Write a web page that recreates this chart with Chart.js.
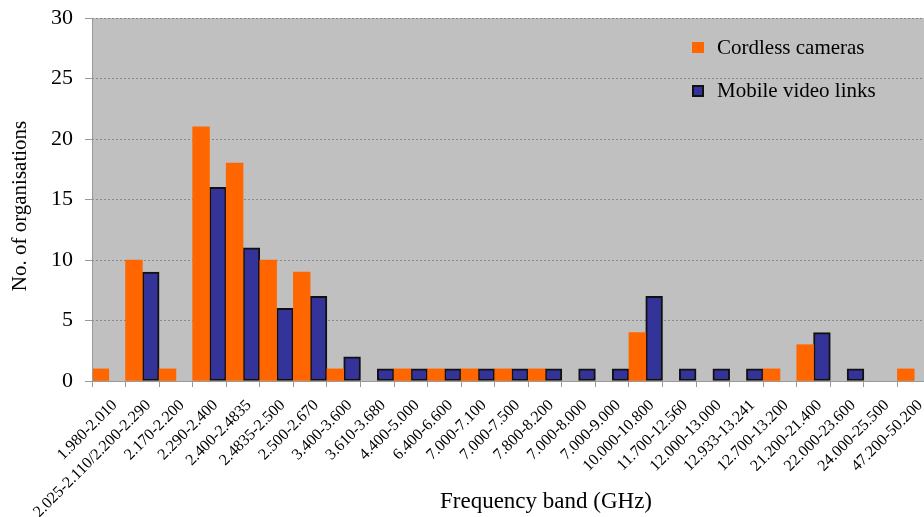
<!DOCTYPE html>
<html>
<head>
<meta charset="utf-8">
<script src="https://cdn.jsdelivr.net/npm/chart.js@4/dist/chart.umd.min.js"></script>
<style>
  html, body { margin: 0; padding: 0; background: #fff; overflow: hidden; width: 924px; height: 517px; }
  canvas { display: block; }
</style>
</head>
<body>
<canvas id="bandChart" width="931" height="517"></canvas>
<script>
const bands = [
  '1.980-2.010', '2.025-2.110/2.200-2.290', '2.170-2.200', '2.290-2.400', '2.400-2.4835',
  '2.4835-2.500', '2.500-2.670', '3.400-3.600', '3.610-3.680', '4.400-5.000',
  '6.400-6.600', '7.000-7.100', '7.000-7.500', '7.800-8.200', '7.000-8.000',
  '7.000-9.000', '10.000-10.800', '11.700-12.560', '12.000-13.000', '12.933-13.241',
  '12.700-13.200', '21.200-21.400', '22.000-23.600', '24.000-25.500', '47.200-50.200'
];

// null = no bar drawn
const cordlessCameras = [1, 10, 1, 21, 18, 10, 9, 1, null, 1, 1, 1, 1, 1, null, null, 4, null, null, null, 1, 3, null, null, 1];
const mobileVideoLinks = [null, 9, null, 16, 11, 6, 7, 2, 1, 1, 1, 1, 1, 1, 1, 1, 7, 1, 1, 1, null, 4, 1, null, null];

const yMax = 30;
const yStep = 5;

const serif = '"Liberation Serif", "Times New Roman", serif';
const orange = '#ff6600';
const navy = '#333399';

// grey plot area + white page
const backdrop = {
  id: 'backdrop',
  beforeDraw(chart) {
    const { ctx, chartArea: a } = chart;
    ctx.save();
    ctx.fillStyle = '#fff';
    ctx.fillRect(0, 0, chart.width, chart.height);
    ctx.fillStyle = '#c0c0c0';
    ctx.fillRect(a.left, a.top, a.right - a.left, a.bottom - a.top);
    ctx.restore();
  },
  // solid left axis line over the dotted grid
  afterDatasetsDraw(chart) {
    const { ctx, chartArea: a } = chart;
    ctx.save();
    ctx.strokeStyle = '#999';
    ctx.lineWidth = 1;
    ctx.beginPath();
    ctx.moveTo(a.left + 0.5, a.top);
    ctx.lineTo(a.left + 0.5, a.bottom);
    ctx.stroke();
    ctx.restore();
  }
};

// axis titles and the in-plot legend
const labels = {
  id: 'labels',
  afterDraw(chart) {
    const { ctx } = chart;
    ctx.save();
    ctx.fillStyle = '#000';
    ctx.font = '23px ' + serif;
    ctx.textAlign = 'center';
    ctx.textBaseline = 'middle';
    ctx.fillText('Frequency band (GHz)', 546, 502);
    ctx.font = '21px ' + serif;
    ctx.translate(20, 206);
    ctx.rotate(-Math.PI / 2);
    ctx.fillText('No. of organisations', 0, 0);
    ctx.restore();

    ctx.save();
    ctx.font = '21px ' + serif;
    ctx.textBaseline = 'middle';
    ctx.fillStyle = orange;
    ctx.fillRect(692, 42, 12, 11);
    ctx.fillStyle = '#000';
    ctx.fillText('Cordless cameras', 717, 48);
    ctx.fillStyle = '#111';
    ctx.fillRect(692, 85, 12, 12);
    ctx.fillStyle = navy;
    ctx.fillRect(694, 87, 8, 8);
    ctx.fillStyle = '#000';
    ctx.fillText('Mobile video links', 717, 91);
    ctx.restore();
  }
};

new Chart(document.getElementById('bandChart'), {
  type: 'bar',
  data: {
    labels: bands,
    datasets: [
      {
        label: 'Cordless cameras',
        data: cordlessCameras,
        backgroundColor: orange,
        borderWidth: 0
      },
      {
        label: 'Mobile video links',
        data: mobileVideoLinks,
        backgroundColor: navy,
        borderColor: '#111',
        borderWidth: 2,
        borderSkipped: false
      }
    ]
  },
  options: {
    responsive: false,
    animation: false,
    categoryPercentage: 1,
    barPercentage: 1,
    layout: { padding: { top: 18, right: 0, left: 0, bottom: 0 } },
    plugins: {
      legend: { display: false },
      tooltip: { enabled: false }
    },
    scales: {
      x: {
        offset: true,
        afterFit: s => { s.height = 136; s.paddingLeft = 0; s.paddingRight = 0; },
        border: { color: '#999', width: 1 },
        grid: { offset: true, drawOnChartArea: false, drawTicks: true, tickLength: 6, color: '#999' },
        ticks: {
          autoSkip: false,
          maxRotation: 45,
          minRotation: 45,
          padding: 9,
          labelOffset: 6,
          color: '#000',
          font: { family: serif, size: 16 }
        }
      },
      y: {
        min: 0,
        max: yMax,
        afterFit: s => { s.width = 92; s.paddingTop = 0; s.paddingBottom = 0; },
        border: { display: false, dash: [2, 2] },
        grid: { color: '#888', tickLength: 7, tickColor: '#999', tickBorderDash: [] },
        ticks: {
          stepSize: yStep,
          padding: 12,
          color: '#000',
          font: { family: serif, size: 22 }
        }
      }
    }
  },
  plugins: [backdrop, labels]
});
</script>
</body>
</html>
